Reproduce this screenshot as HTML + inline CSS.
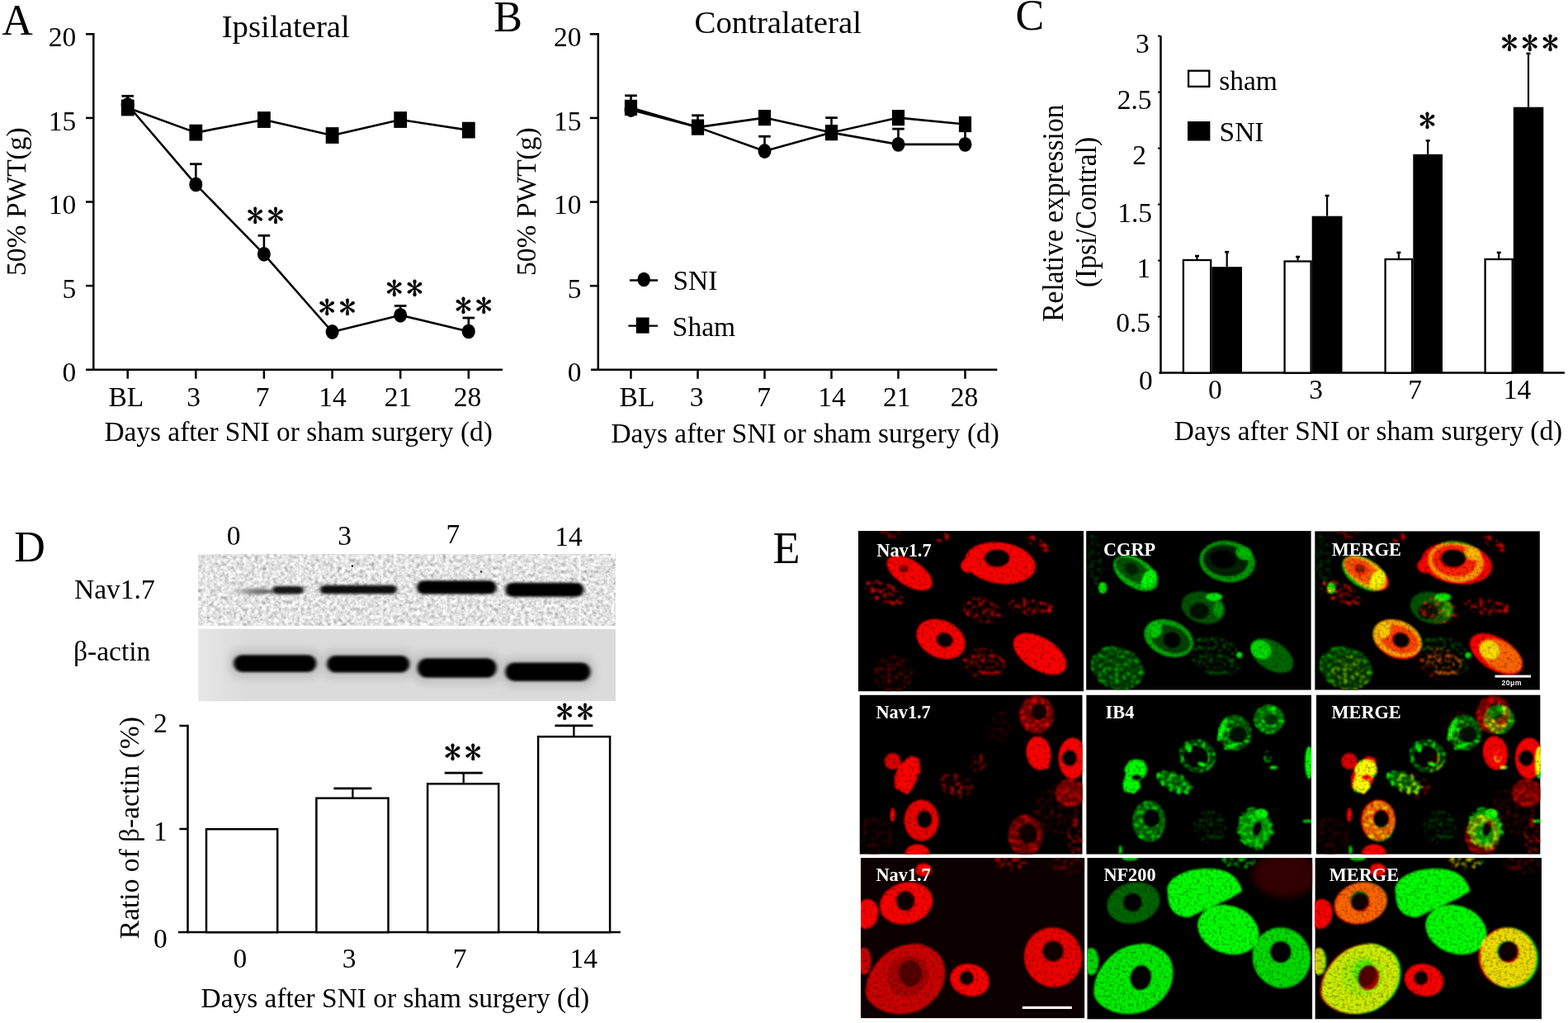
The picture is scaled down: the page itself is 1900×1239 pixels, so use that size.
<!DOCTYPE html>
<html><head><meta charset="utf-8"><title>Figure</title>
<style>html,body{margin:0;padding:0;background:#fff;}svg{display:block;}
text{font-family:"Liberation Serif","Times New Roman",serif;}
.ast{font-family:"IPAGothic","Liberation Serif",serif;letter-spacing:4.3px;stroke:#000;stroke-width:0.5px;}</style></head>
<body><svg width="1900" height="1239" viewBox="0 0 1900 1239">
<defs><filter id="cb" x="-5%" y="-5%" width="110%" height="110%"><feGaussianBlur stdDeviation="1.6"/></filter>
<filter id="bb" x="-20%" y="-50%" width="140%" height="200%"><feGaussianBlur stdDeviation="2.0 1.5"/></filter>
<filter id="hb" x="-20%" y="-50%" width="140%" height="200%"><feGaussianBlur stdDeviation="5"/></filter>
<filter id="nz1" x="0" y="0" width="100%" height="100%"><feTurbulence type="fractalNoise" baseFrequency="0.22" numOctaves="2" seed="4"/><feColorMatrix type="matrix" values="0.33 0.33 0.33 0 0 0.33 0.33 0.33 0 0 0.33 0.33 0.33 0 0 0 0 0 0 1"/><feComponentTransfer><feFuncR type="linear" slope="1.6" intercept="-0.03"/><feFuncG type="linear" slope="1.6" intercept="-0.03"/><feFuncB type="linear" slope="1.6" intercept="-0.03"/></feComponentTransfer></filter>
<filter id="tx" color-interpolation-filters="sRGB" x="-10%" y="-10%" width="120%" height="120%"><feGaussianBlur in="SourceGraphic" stdDeviation="1.3" result="b"/><feTurbulence type="fractalNoise" baseFrequency="0.3" numOctaves="2" seed="3" result="n"/><feColorMatrix in="n" type="matrix" values="0.9 0 0 0 0.5 0.9 0 0 0 0.5 0.9 0 0 0 0.5 0 0 0 0 1" result="g"/><feComposite in="b" in2="g" operator="arithmetic" k1="1" k2="0" k3="0" k4="0"/></filter>
<filter id="sp" color-interpolation-filters="sRGB" x="-10%" y="-10%" width="120%" height="120%"><feTurbulence type="fractalNoise" baseFrequency="0.2" numOctaves="2" seed="11" result="n"/><feColorMatrix in="n" type="matrix" values="0 0 0 0 0 0 0 0 0 0 0 0 0 0 0 4 0 0 0 -1.9" result="m"/><feComposite in="SourceGraphic" in2="m" operator="in" result="s"/><feGaussianBlur in="s" stdDeviation="1.1"/></filter>
<g id="R1"><g filter="url(#sp)"><ellipse cx="31" cy="75" rx="26" ry="12" fill="#e00" transform="rotate(25 31 75)"/><ellipse cx="150" cy="96" rx="24" ry="15" fill="#c00" transform="rotate(15 150 96)"/><ellipse cx="207" cy="92" rx="28" ry="10" fill="#d00" transform="rotate(10 207 92)"/><ellipse cx="152" cy="161" rx="26" ry="19" fill="#c00" transform="rotate(10 152 161)"/><ellipse cx="42" cy="173" rx="24" ry="22" fill="#600"/><ellipse cx="218" cy="16" rx="18" ry="6" fill="#e00" transform="rotate(35 218 16)"/><ellipse cx="102" cy="8" rx="9" ry="6" fill="#d00"/><ellipse cx="40" cy="4" rx="16" ry="5" fill="#900"/><ellipse cx="229" cy="93" rx="7" ry="6" fill="#f00"/></g>
<g filter="url(#tx)"><ellipse cx="62" cy="51" rx="31" ry="15.5" fill="#f00" transform="rotate(32 62 51)"/><ellipse cx="55" cy="46" rx="6" ry="5" fill="#800"/><ellipse cx="172" cy="39" rx="43" ry="25" fill="#f00" transform="rotate(8 172 39)"/><ellipse cx="134" cy="42" rx="10" ry="9" fill="#f00"/><ellipse cx="168" cy="33" rx="15" ry="10.5" fill="#000"/><ellipse cx="100" cy="131" rx="31" ry="22.5" fill="#f00" transform="rotate(25 100 131)"/><ellipse cx="104.5" cy="132" rx="10" ry="8.5" fill="#000" transform="rotate(15 104.5 132)"/><ellipse cx="220" cy="149" rx="36" ry="19.5" fill="#f00" transform="rotate(32 220 149)"/></g></g>
<g id="G1"><g filter="url(#tx)"><ellipse cx="38" cy="166" rx="32" ry="25" fill="#030" transform="rotate(20 38 166)"/></g>
<g filter="url(#sp)"><ellipse cx="38" cy="166" rx="33" ry="26" fill="#0a0" transform="rotate(20 38 166)"/><ellipse cx="157" cy="152" rx="32" ry="24" fill="#050" transform="rotate(25 157 152)"/><ellipse cx="10" cy="40" rx="10" ry="40" fill="#030"/></g>
<g filter="url(#tx)"><ellipse cx="60" cy="51" rx="30" ry="17.5" fill="#0b0" transform="rotate(32 60 51)"/><ellipse cx="57" cy="48" rx="24" ry="12" fill="#050" transform="rotate(32 57 48)"/><ellipse cx="76" cy="58" rx="8" ry="12" fill="#0f0" transform="rotate(32 76 58)"/><ellipse cx="55" cy="46" rx="9" ry="7" fill="#020" transform="rotate(32 55 46)"/><ellipse cx="171" cy="37" rx="34" ry="25" fill="#090" transform="rotate(8 171 37)"/><ellipse cx="169" cy="36" rx="27" ry="19" fill="#020" transform="rotate(8 169 36)"/><ellipse cx="191" cy="27" rx="10" ry="8" fill="#0b0" transform="rotate(20 191 27)"/><ellipse cx="166" cy="34" rx="16" ry="11" fill="#000" transform="rotate(8 166 34)"/><ellipse cx="142" cy="93" rx="27" ry="19" fill="#050" transform="rotate(15 142 93)"/><ellipse cx="137" cy="97" rx="12" ry="10" fill="#010"/><ellipse cx="155" cy="80" rx="10" ry="5" fill="#0e0"/><ellipse cx="160" cy="95" rx="6" ry="10" fill="#090"/><ellipse cx="100" cy="130" rx="31" ry="21.5" fill="#0a0" transform="rotate(22 100 130)"/><ellipse cx="102" cy="131" rx="25" ry="16" fill="#040" transform="rotate(22 102 131)"/><ellipse cx="104" cy="132" rx="10.5" ry="9.5" fill="#000" transform="rotate(22 104 132)"/><ellipse cx="84" cy="120" rx="8" ry="10" fill="#0c0" transform="rotate(20 84 120)"/><ellipse cx="225" cy="151" rx="29" ry="17" fill="#060" transform="rotate(32 225 151)"/><ellipse cx="212" cy="144" rx="13" ry="11" fill="#0d0" transform="rotate(30 212 144)"/><ellipse cx="20" cy="69" rx="5" ry="7" fill="#0e0"/><ellipse cx="185.7" cy="150.3" rx="3.5" ry="3.5" fill="#0f0"/></g></g>
<g id="R2"><g filter="url(#sp)"><ellipse cx="240" cy="140" rx="30" ry="30" fill="#400"/><ellipse cx="20" cy="170" rx="20" ry="25" fill="#300"/><ellipse cx="170" cy="40" rx="15" ry="20" fill="#300"/><ellipse cx="117" cy="110" rx="22" ry="14" fill="#900" transform="rotate(20 117 110)"/><ellipse cx="144" cy="83" rx="10" ry="12" fill="#800"/><ellipse cx="118" cy="108" rx="8" ry="10" fill="#c00"/></g>
<g filter="url(#tx)"><path d="M62,74 L72,77 L74,95 L69,97 L70,102 L65,112 L58,121 L43,113 L42,100 L48,85 Z" fill="#f00"/><ellipse cx="40" cy="80.5" rx="10" ry="10" fill="#d00"/><ellipse cx="75" cy="152" rx="21" ry="25" fill="#e00"/><ellipse cx="78.7" cy="150.6" rx="9" ry="10.5" fill="#000"/><ellipse cx="40" cy="145.5" rx="3" ry="8.5" fill="#f00"/><ellipse cx="70" cy="193" rx="15" ry="12" fill="#f00"/><ellipse cx="214.5" cy="24" rx="21" ry="23" fill="#600"/></g>
<g filter="url(#sp)"><ellipse cx="214.5" cy="24" rx="21" ry="23" fill="#e00"/></g>
<g filter="url(#tx)"><ellipse cx="217.6" cy="20.4" rx="9.5" ry="9.5" fill="#100"/><ellipse cx="217" cy="70.5" rx="15" ry="20.5" fill="#f00" transform="rotate(-8 217 70.5)"/><ellipse cx="226" cy="87" rx="4" ry="3" fill="#f00"/><ellipse cx="258" cy="77" rx="17" ry="25" fill="#f00"/><ellipse cx="254.4" cy="76.7" rx="8.6" ry="9.5" fill="#000"/><ellipse cx="255" cy="119" rx="18" ry="17" fill="#600"/></g>
<g filter="url(#sp)"><ellipse cx="255" cy="119" rx="18" ry="17" fill="#d00"/></g>
<g filter="url(#tx)"><ellipse cx="201" cy="170" rx="21" ry="25" fill="#500"/></g>
<g filter="url(#sp)"><ellipse cx="201" cy="170" rx="21" ry="25" fill="#c00"/></g>
<g filter="url(#tx)"><ellipse cx="204" cy="168" rx="11" ry="12" fill="#100"/></g>
<g filter="url(#sp)"><ellipse cx="262" cy="170" rx="10" ry="24" fill="#a00"/></g></g>
<g id="G2"><g filter="url(#sp)"><ellipse cx="150" cy="160" rx="20" ry="20" fill="#040"/></g>
<g filter="url(#tx)"><ellipse cx="180" cy="45.5" rx="20" ry="21.5" fill="#040" transform="rotate(-20 180 45.5)"/></g>
<g filter="url(#sp)"><ellipse cx="180" cy="45.5" rx="20" ry="21.5" fill="#0f0" transform="rotate(-20 180 45.5)"/></g>
<g filter="url(#tx)"><ellipse cx="184" cy="48" rx="11" ry="10" fill="#010" transform="rotate(-20 184 48)"/><ellipse cx="165" cy="42" rx="3.5" ry="15" fill="#0f0" transform="rotate(20 165 42)"/><ellipse cx="176" cy="62" rx="10" ry="3" fill="#0e0" transform="rotate(-20 176 62)"/><ellipse cx="221.5" cy="29.5" rx="18.5" ry="17.5" fill="#060"/></g>
<g filter="url(#sp)"><ellipse cx="221.5" cy="29.5" rx="18.5" ry="17.5" fill="#0f0"/></g>
<g filter="url(#tx)"><ellipse cx="224" cy="30" rx="8" ry="7" fill="#030"/><ellipse cx="134.5" cy="74" rx="22.5" ry="20" fill="#030" transform="rotate(20 134.5 74)"/></g>
<g filter="url(#sp)"><ellipse cx="134.5" cy="74" rx="22.5" ry="20" fill="#0e0" transform="rotate(20 134.5 74)"/></g>
<g filter="url(#tx)"><ellipse cx="133" cy="75" rx="15" ry="13" fill="#000" transform="rotate(20 133 75)"/><ellipse cx="125" cy="65" rx="3" ry="5" fill="#0f0"/><ellipse cx="140" cy="84" rx="5" ry="2.5" fill="#0f0" transform="rotate(20 140 84)"/><path d="M52,80 L60,78 L70,80 L74,90 L72,98 L64,104 L66,112 L58,120 L46,117 L44,108 L48,96 L46,90 Z" fill="#0f0"/><ellipse cx="61" cy="100" rx="6" ry="3" fill="#000"/><ellipse cx="107" cy="106" rx="22" ry="10" fill="#050" transform="rotate(25 107 106)"/></g>
<g filter="url(#sp)"><ellipse cx="107" cy="106" rx="24" ry="12" fill="#0f0" transform="rotate(25 107 106)"/></g>
<g filter="url(#tx)"><ellipse cx="76" cy="153" rx="20" ry="25" fill="#050"/></g>
<g filter="url(#sp)"><ellipse cx="76" cy="153" rx="20" ry="25" fill="#0d0"/></g>
<g filter="url(#tx)"><ellipse cx="79" cy="149.5" rx="10" ry="10.5" fill="#000"/><ellipse cx="204.5" cy="162" rx="20" ry="23" fill="#080" transform="rotate(-10 204.5 162)"/></g>
<g filter="url(#sp)"><ellipse cx="204.5" cy="162" rx="22.5" ry="26" fill="#0f0" transform="rotate(-10 204.5 162)"/></g>
<g filter="url(#tx)"><ellipse cx="207" cy="162" rx="5" ry="9" fill="#000" transform="rotate(20 207 162)"/><ellipse cx="212" cy="144" rx="8" ry="6" fill="#0f0"/><ellipse cx="270" cy="82" rx="5" ry="19.6" fill="#0f0"/><ellipse cx="227" cy="88" rx="5" ry="2" fill="#0f0"/><ellipse cx="268" cy="153" rx="6" ry="2" fill="#0d0"/><ellipse cx="41.5" cy="188" rx="2" ry="6" fill="#0d0"/></g>
<g filter="url(#sp)"><ellipse cx="220" cy="75" rx="5" ry="7" fill="#0f0"/></g></g>
<g id="R3"><g filter="url(#sp)"><ellipse cx="181" cy="5" rx="20" ry="10" fill="#c00"/><ellipse cx="250" cy="8" rx="22" ry="12" fill="#600"/></g>
<g filter="url(#tx)"><ellipse cx="55" cy="55" rx="32.5" ry="25" fill="#f00" transform="rotate(-15 55 55)"/><ellipse cx="54" cy="52" rx="11" ry="12" fill="#100"/><ellipse cx="7" cy="68" rx="14" ry="18" fill="#f00" transform="rotate(10 7 68)"/><ellipse cx="76" cy="14.5" rx="10" ry="8" fill="#f00"/><path d="M22,124 C27.2,118.2 33.3,113.3 40,110 C46.7,106.7 55.3,104.5 62,104 C68.7,103.5 74.2,104.3 80,107 C85.8,109.7 93.3,114.2 97,120 C100.7,125.8 102.5,134.5 102,142 C101.5,149.5 99.0,158.0 94,165 C89.0,172.0 80.2,180.0 72,184 C63.8,188.0 53.3,189.2 45,189 C36.7,188.8 28.3,186.5 22,183 C15.7,179.5 9.2,174.3 7,168 C4.8,161.7 6.5,152.3 9,145 C11.5,137.7 16.8,129.8 22,124 Z" fill="#c00"/><ellipse cx="57" cy="143" rx="26" ry="24" fill="#a00" transform="rotate(-30 57 143)"/><ellipse cx="60" cy="140" rx="14" ry="16" fill="#500"/><ellipse cx="4" cy="125" rx="8.5" ry="16.5" fill="#c00"/><ellipse cx="132" cy="148" rx="24" ry="19.5" fill="#f00" transform="rotate(15 132 148)"/><ellipse cx="128.3" cy="145.5" rx="8.5" ry="8.5" fill="#100"/><ellipse cx="233" cy="120.5" rx="35" ry="36.5" fill="#e00" transform="rotate(-20 233 120.5)"/><ellipse cx="233" cy="113" rx="12.5" ry="12.5" fill="#100"/></g></g>
<g id="G3"><g filter="url(#tx)"><ellipse cx="56" cy="54.5" rx="32.5" ry="24.5" fill="#060" transform="rotate(-15 56 54.5)"/><ellipse cx="55" cy="54" rx="11" ry="11" fill="#000"/><path d="M97,36 C102,20 125,12 150,13 C170,14 183,22 188,40 C172,52 146,60 124,72 C108,72 100,64 98,50 Z" fill="#0f0"/><ellipse cx="171" cy="87" rx="38" ry="29" fill="#0f0" transform="rotate(20 171 87)"/><path d="M24,124 C29.2,118.2 35.3,113.3 42,110 C48.7,106.7 57.3,104.5 64,104 C70.7,103.5 76.2,104.3 82,107 C87.8,109.7 95.3,114.2 99,120 C102.7,125.8 104.5,134.5 104,142 C103.5,149.5 101.0,158.0 96,165 C91.0,172.0 82.2,180.0 74,184 C65.8,188.0 55.3,189.2 47,189 C38.7,188.8 30.3,186.5 24,183 C17.7,179.5 11.2,174.3 9,168 C6.8,161.7 8.5,152.3 11,145 C13.5,137.7 18.8,129.8 24,124 Z" fill="#0e0"/><ellipse cx="65" cy="145" rx="12.5" ry="15" fill="#000" transform="rotate(10 65 145)"/><ellipse cx="235.5" cy="121" rx="35" ry="37" fill="#0d0" transform="rotate(-20 235.5 121)"/><ellipse cx="234.5" cy="114" rx="12.5" ry="13" fill="#000"/><ellipse cx="5" cy="125.5" rx="9" ry="16.5" fill="#0d0"/><ellipse cx="52" cy="0" rx="10" ry="3.5" fill="#0d0"/></g>
<g filter="url(#sp)"><ellipse cx="183.5" cy="4" rx="20.5" ry="10" fill="#0c0"/></g></g></defs>
<rect width="1900" height="1239" fill="#fff"/>
<line x1="113.3" y1="40.1" x2="113.3" y2="448.9" stroke="#000" stroke-width="2.5" />
<line x1="104.0" y1="447.7" x2="609.0" y2="447.7" stroke="#000" stroke-width="2.5" />
<line x1="104.0" y1="41.3" x2="113.3" y2="41.3" stroke="#000" stroke-width="2.5" />
<line x1="104.0" y1="142.9" x2="113.3" y2="142.9" stroke="#000" stroke-width="2.5" />
<line x1="104.0" y1="244.5" x2="113.3" y2="244.5" stroke="#000" stroke-width="2.5" />
<line x1="104.0" y1="346.1" x2="113.3" y2="346.1" stroke="#000" stroke-width="2.5" />
<line x1="154.7" y1="447.7" x2="154.7" y2="458.7" stroke="#000" stroke-width="2.5" />
<line x1="237.3" y1="447.7" x2="237.3" y2="458.7" stroke="#000" stroke-width="2.5" />
<line x1="319.9" y1="447.7" x2="319.9" y2="458.7" stroke="#000" stroke-width="2.5" />
<line x1="402.6" y1="447.7" x2="402.6" y2="458.7" stroke="#000" stroke-width="2.5" />
<line x1="485.2" y1="447.7" x2="485.2" y2="458.7" stroke="#000" stroke-width="2.5" />
<line x1="567.8" y1="447.7" x2="567.8" y2="458.7" stroke="#000" stroke-width="2.5" />
<text x="92.2" y="55.9" font-size="33.5" text-anchor="end" >20</text>
<text x="92.2" y="157.5" font-size="33.5" text-anchor="end" >15</text>
<text x="92.2" y="259.1" font-size="33.5" text-anchor="end" >10</text>
<text x="92.2" y="360.7" font-size="33.5" text-anchor="end" >5</text>
<text x="92.2" y="462.3" font-size="33.5" text-anchor="end" >0</text>
<text x="152.8" y="492.0" font-size="33.5" text-anchor="middle" >BL</text>
<text x="234.5" y="492.0" font-size="33.5" text-anchor="middle" >3</text>
<text x="318.0" y="492.0" font-size="33.5" text-anchor="middle" >7</text>
<text x="403.1" y="492.0" font-size="33.5" text-anchor="middle" >14</text>
<text x="482.5" y="492.0" font-size="33.5" text-anchor="middle" >21</text>
<text x="566.4" y="492.0" font-size="33.5" text-anchor="middle" >28</text>
<text x="268.7" y="45.2" font-size="38.8" >Ipsilateral</text>
<text x="126.4" y="534.4" font-size="33.4" >Days after SNI or sham surgery (d)</text>
<text x="2.3" y="41.6" font-size="52" >A</text>
<text transform="translate(31.0,333.9) rotate(-90)" font-size="33.5">50% PWT(g)</text>
<polyline points="154.7,127.0 237.3,223.4 319.9,307.8 402.6,402.0 485.2,381.8 567.8,401.4" fill="none" stroke="#000" stroke-width="2.6" stroke-linejoin="round"/>
<polyline points="154.7,130.5 237.3,160.6 319.9,145.0 402.6,164.0 485.2,145.0 567.8,157.6" fill="none" stroke="#000" stroke-width="2.6" stroke-linejoin="round"/>
<line x1="154.7" y1="127.0" x2="154.7" y2="116.3" stroke="#000" stroke-width="2.6" />
<line x1="147.4" y1="116.3" x2="162.0" y2="116.3" stroke="#000" stroke-width="2.8" />
<line x1="237.3" y1="223.4" x2="237.3" y2="198.7" stroke="#000" stroke-width="2.6" />
<line x1="230.0" y1="198.7" x2="244.6" y2="198.7" stroke="#000" stroke-width="2.8" />
<line x1="319.9" y1="307.8" x2="319.9" y2="285.3" stroke="#000" stroke-width="2.6" />
<line x1="312.6" y1="285.3" x2="327.2" y2="285.3" stroke="#000" stroke-width="2.8" />
<line x1="485.2" y1="380.9" x2="485.2" y2="370.4" stroke="#000" stroke-width="2.6" />
<line x1="477.9" y1="370.4" x2="492.5" y2="370.4" stroke="#000" stroke-width="2.8" />
<line x1="567.8" y1="401.4" x2="567.8" y2="385.0" stroke="#000" stroke-width="2.6" />
<line x1="560.5" y1="385.0" x2="575.1" y2="385.0" stroke="#000" stroke-width="2.8" />
<ellipse cx="154.7" cy="127.0" rx="8" ry="8.9"/>
<ellipse cx="237.3" cy="223.4" rx="8" ry="8.9"/>
<ellipse cx="319.9" cy="307.8" rx="8" ry="8.9"/>
<ellipse cx="402.6" cy="402.0" rx="8" ry="8.9"/>
<ellipse cx="485.2" cy="381.8" rx="8" ry="8.9"/>
<ellipse cx="567.8" cy="401.4" rx="8" ry="8.9"/>
<rect x="146.8" y="120.6" width="15.8" height="19.8" fill="#000" />
<rect x="229.4" y="150.7" width="15.8" height="19.8" fill="#000" />
<rect x="312.0" y="135.1" width="15.8" height="19.8" fill="#000" />
<rect x="394.7" y="154.1" width="15.8" height="19.8" fill="#000" />
<rect x="477.3" y="135.1" width="15.8" height="19.8" fill="#000" />
<rect x="559.9" y="147.7" width="15.8" height="19.8" fill="#000" />
<text x="299.0" y="276.3" font-size="41" class="ast">**</text>
<text x="385.9" y="387.0" font-size="41" class="ast">**</text>
<text x="467.4" y="364.0" font-size="41" class="ast">**</text>
<text x="551.2" y="385.4" font-size="41" class="ast">**</text>
<line x1="724.8" y1="40.1" x2="724.8" y2="449.0" stroke="#000" stroke-width="2.5" />
<line x1="716.0" y1="447.8" x2="1208.3" y2="447.8" stroke="#000" stroke-width="2.5" />
<line x1="714.8" y1="41.3" x2="724.8" y2="41.3" stroke="#000" stroke-width="2.5" />
<line x1="714.8" y1="142.9" x2="724.8" y2="142.9" stroke="#000" stroke-width="2.5" />
<line x1="714.8" y1="244.6" x2="724.8" y2="244.6" stroke="#000" stroke-width="2.5" />
<line x1="714.8" y1="346.2" x2="724.8" y2="346.2" stroke="#000" stroke-width="2.5" />
<line x1="764.5" y1="447.8" x2="764.5" y2="458.8" stroke="#000" stroke-width="2.5" />
<line x1="845.5" y1="447.8" x2="845.5" y2="458.8" stroke="#000" stroke-width="2.5" />
<line x1="926.5" y1="447.8" x2="926.5" y2="458.8" stroke="#000" stroke-width="2.5" />
<line x1="1007.5" y1="447.8" x2="1007.5" y2="458.8" stroke="#000" stroke-width="2.5" />
<line x1="1088.5" y1="447.8" x2="1088.5" y2="458.8" stroke="#000" stroke-width="2.5" />
<line x1="1169.5" y1="447.8" x2="1169.5" y2="458.8" stroke="#000" stroke-width="2.5" />
<text x="704.4" y="55.9" font-size="33.5" text-anchor="end" >20</text>
<text x="704.4" y="157.5" font-size="33.5" text-anchor="end" >15</text>
<text x="704.4" y="259.2" font-size="33.5" text-anchor="end" >10</text>
<text x="704.4" y="360.8" font-size="33.5" text-anchor="end" >5</text>
<text x="704.4" y="462.4" font-size="33.5" text-anchor="end" >0</text>
<text x="772.0" y="491.6" font-size="33.5" text-anchor="middle" >BL</text>
<text x="844.0" y="491.6" font-size="33.5" text-anchor="middle" >3</text>
<text x="925.6" y="491.6" font-size="33.5" text-anchor="middle" >7</text>
<text x="1008.0" y="491.6" font-size="33.5" text-anchor="middle" >14</text>
<text x="1086.7" y="491.6" font-size="33.5" text-anchor="middle" >21</text>
<text x="1168.5" y="491.6" font-size="33.5" text-anchor="middle" >28</text>
<text x="841.5" y="39.8" font-size="38.8" >Contralateral</text>
<text x="740.4" y="535.6" font-size="33.4" >Days after SNI or sham surgery (d)</text>
<text x="598.3" y="37.5" font-size="52" >B</text>
<text transform="translate(648.5,333.9) rotate(-90)" font-size="33.5">50% PWT(g)</text>
<polyline points="764.5,133.0 845.5,154.1 926.5,183.0 1007.5,160.6 1088.5,174.9 1169.5,174.9" fill="none" stroke="#000" stroke-width="2.6" stroke-linejoin="round"/>
<polyline points="764.5,130.4 845.5,154.1 926.5,142.6 1007.5,160.6 1088.5,142.6 1169.5,150.5" fill="none" stroke="#000" stroke-width="2.6" stroke-linejoin="round"/>
<line x1="764.5" y1="130.0" x2="764.5" y2="115.8" stroke="#000" stroke-width="2.6" />
<line x1="757.2" y1="115.8" x2="771.8" y2="115.8" stroke="#000" stroke-width="2.8" />
<line x1="845.5" y1="154.0" x2="845.5" y2="139.8" stroke="#000" stroke-width="2.6" />
<line x1="838.2" y1="139.8" x2="852.8" y2="139.8" stroke="#000" stroke-width="2.8" />
<line x1="926.5" y1="183.0" x2="926.5" y2="165.2" stroke="#000" stroke-width="2.6" />
<line x1="919.2" y1="165.2" x2="933.8" y2="165.2" stroke="#000" stroke-width="2.8" />
<line x1="1007.5" y1="160.0" x2="1007.5" y2="142.6" stroke="#000" stroke-width="2.6" />
<line x1="1000.2" y1="142.6" x2="1014.8" y2="142.6" stroke="#000" stroke-width="2.8" />
<line x1="1088.5" y1="174.9" x2="1088.5" y2="156.1" stroke="#000" stroke-width="2.6" />
<line x1="1081.2" y1="156.1" x2="1095.8" y2="156.1" stroke="#000" stroke-width="2.8" />
<line x1="1169.5" y1="174.9" x2="1169.5" y2="150.5" stroke="#000" stroke-width="2.6" />
<line x1="1162.2" y1="150.5" x2="1176.8" y2="150.5" stroke="#000" stroke-width="2.8" />
<ellipse cx="764.5" cy="133.0" rx="8" ry="8.9"/>
<ellipse cx="845.5" cy="154.1" rx="8" ry="8.9"/>
<ellipse cx="926.5" cy="183.0" rx="8" ry="8.9"/>
<ellipse cx="1007.5" cy="160.6" rx="8" ry="8.9"/>
<ellipse cx="1088.5" cy="174.9" rx="8" ry="8.9"/>
<ellipse cx="1169.5" cy="174.9" rx="8" ry="8.9"/>
<rect x="756.9" y="120.8" width="15.2" height="19.2" fill="#000" />
<rect x="837.9" y="144.5" width="15.2" height="19.2" fill="#000" />
<rect x="918.9" y="133.0" width="15.2" height="19.2" fill="#000" />
<rect x="999.9" y="151.0" width="15.2" height="19.2" fill="#000" />
<rect x="1080.9" y="133.0" width="15.2" height="19.2" fill="#000" />
<rect x="1161.9" y="140.9" width="15.2" height="19.2" fill="#000" />
<line x1="763.0" y1="339.5" x2="797.0" y2="339.5" stroke="#000" stroke-width="2.3" />
<ellipse cx="780.2" cy="338.5" rx="7.75" ry="8.85"/>
<text x="815.4" y="351.3" font-size="33.5" >SNI</text>
<line x1="761.4" y1="394.7" x2="797.0" y2="394.7" stroke="#000" stroke-width="2.3" />
<rect x="770.8" y="384.5" width="15.8" height="19.2" fill="#000" />
<text x="814.8" y="406.6" font-size="33.5" >Sham</text>
<line x1="1406.5" y1="43.5" x2="1406.5" y2="452.8" stroke="#000" stroke-width="2.5" />
<line x1="1404.5" y1="451.6" x2="1895.9" y2="451.6" stroke="#000" stroke-width="2.5" />
<line x1="1403.0" y1="383.6" x2="1406.5" y2="383.6" stroke="#000" stroke-width="2" />
<line x1="1403.0" y1="315.6" x2="1406.5" y2="315.6" stroke="#000" stroke-width="2" />
<line x1="1403.0" y1="247.6" x2="1406.5" y2="247.6" stroke="#000" stroke-width="2" />
<line x1="1403.0" y1="179.6" x2="1406.5" y2="179.6" stroke="#000" stroke-width="2" />
<line x1="1403.0" y1="111.6" x2="1406.5" y2="111.6" stroke="#000" stroke-width="2" />
<line x1="1403.0" y1="43.6" x2="1406.5" y2="43.6" stroke="#000" stroke-width="2" />
<text x="1380.1" y="472.0" font-size="33.5" >0</text>
<text x="1352.2" y="402.4" font-size="33.5" >0.5</text>
<text x="1377.5" y="335.8" font-size="33.5" >1</text>
<text x="1354.2" y="268.5" font-size="33.5" >1.5</text>
<text x="1372.3" y="198.5" font-size="33.5" >2</text>
<text x="1353.7" y="131.8" font-size="33.5" >2.5</text>
<text x="1375.9" y="63.6" font-size="33.5" >3</text>
<line x1="1450.5" y1="313.9" x2="1450.5" y2="310.0" stroke="#000" stroke-width="2.2" />
<line x1="1448.0" y1="310.0" x2="1453.0" y2="310.0" stroke="#000" stroke-width="2.6" />
<line x1="1486.7" y1="323.2" x2="1486.7" y2="305.2" stroke="#000" stroke-width="2.2" />
<line x1="1484.2" y1="305.2" x2="1489.2" y2="305.2" stroke="#000" stroke-width="2.6" />
<rect x="1433.9" y="315.0" width="33.3" height="136.6" fill="#fff" stroke="#000" stroke-width="2.3" />
<rect x="1468.3" y="323.2" width="36.7" height="128.4" fill="#000" />
<line x1="1572.6" y1="315.4" x2="1572.6" y2="311.0" stroke="#000" stroke-width="2.2" />
<line x1="1570.1" y1="311.0" x2="1575.1" y2="311.0" stroke="#000" stroke-width="2.6" />
<line x1="1608.1" y1="261.7" x2="1608.1" y2="237.0" stroke="#000" stroke-width="2.2" />
<line x1="1605.6" y1="237.0" x2="1610.6" y2="237.0" stroke="#000" stroke-width="2.6" />
<rect x="1556.6" y="316.5" width="32.0" height="135.1" fill="#fff" stroke="#000" stroke-width="2.3" />
<rect x="1589.7" y="261.7" width="36.8" height="189.9" fill="#000" />
<line x1="1694.9" y1="312.9" x2="1694.9" y2="305.9" stroke="#000" stroke-width="2.2" />
<line x1="1692.4" y1="305.9" x2="1697.4" y2="305.9" stroke="#000" stroke-width="2.6" />
<line x1="1730.2" y1="186.8" x2="1730.2" y2="170.3" stroke="#000" stroke-width="2.2" />
<line x1="1727.7" y1="170.3" x2="1732.7" y2="170.3" stroke="#000" stroke-width="2.6" />
<rect x="1678.6" y="314.0" width="32.6" height="137.6" fill="#fff" stroke="#000" stroke-width="2.3" />
<rect x="1712.3" y="186.8" width="35.7" height="264.8" fill="#000" />
<line x1="1816.2" y1="312.9" x2="1816.2" y2="305.9" stroke="#000" stroke-width="2.2" />
<line x1="1813.7" y1="305.9" x2="1818.7" y2="305.9" stroke="#000" stroke-width="2.6" />
<line x1="1852.0" y1="129.7" x2="1852.0" y2="64.8" stroke="#000" stroke-width="2.2" />
<line x1="1849.5" y1="64.8" x2="1854.5" y2="64.8" stroke="#000" stroke-width="2.6" />
<rect x="1799.6" y="314.0" width="33.1" height="137.6" fill="#fff" stroke="#000" stroke-width="2.3" />
<rect x="1833.8" y="129.7" width="36.5" height="321.9" fill="#000" />
<text x="1472.3" y="483.4" font-size="33.5" text-anchor="middle" >0</text>
<text x="1594.5" y="483.4" font-size="33.5" text-anchor="middle" >3</text>
<text x="1714.5" y="483.4" font-size="33.5" text-anchor="middle" >7</text>
<text x="1838.5" y="483.4" font-size="33.5" text-anchor="middle" >14</text>
<text x="1422.8" y="533.4" font-size="33.4" >Days after SNI or sham surgery (d)</text>
<text x="1230.6" y="36.2" font-size="52" >C</text>
<rect x="1440.1" y="85.7" width="25.2" height="19.1" fill="#fff" stroke="#000" stroke-width="2.3" />
<text x="1477.2" y="109.1" font-size="33.5" >sham</text>
<rect x="1439.0" y="147.0" width="27.4" height="23.5" fill="#000" />
<text x="1477.5" y="170.5" font-size="33.5" >SNI</text>
<text x="1719.3" y="160.7" font-size="41" class="ast">*</text>
<text x="1818.7" y="66.9" font-size="41" class="ast">***</text>
<text transform="translate(1288.4,389.8) rotate(-90) scale(1,1.045)" font-size="33.5">Relative expression</text>
<text transform="translate(1328.2,348.1) rotate(-90) scale(1,1.045)" font-size="33.5">(Ipsi/Contral)</text>
<text x="17.3" y="679.6" font-size="52" >D</text>
<text x="90.0" y="725.3" font-size="33.5" >Nav1.7</text>
<text x="89.0" y="800.0" font-size="33.5" >β-actin</text>
<text x="283.2" y="660.0" font-size="33.5" text-anchor="middle" >0</text>
<text x="417.5" y="660.2" font-size="33.5" text-anchor="middle" >3</text>
<text x="548.8" y="657.8" font-size="33.5" text-anchor="middle" >7</text>
<text x="688.9" y="660.8" font-size="33.5" text-anchor="middle" >14</text>
<line x1="227.5" y1="877.8" x2="227.5" y2="1130.3" stroke="#000" stroke-width="2.5" />
<line x1="215.9" y1="1129.1" x2="751.9" y2="1129.1" stroke="#000" stroke-width="2.5" />
<line x1="217.4" y1="1004.0" x2="227.5" y2="1004.0" stroke="#000" stroke-width="2.5" />
<line x1="217.4" y1="879.0" x2="227.5" y2="879.0" stroke="#000" stroke-width="2.5" />
<rect x="250.0" y="1004.2" width="86.2" height="124.9" fill="#fff" stroke="#000" stroke-width="2.5" />
<line x1="427.4" y1="966.7" x2="427.4" y2="954.8" stroke="#000" stroke-width="2.3" />
<line x1="404.4" y1="954.8" x2="450.4" y2="954.8" stroke="#000" stroke-width="2.8" />
<rect x="383.4" y="966.7" width="87.1" height="162.4" fill="#fff" stroke="#000" stroke-width="2.5" />
<line x1="561.7" y1="949.3" x2="561.7" y2="936.2" stroke="#000" stroke-width="2.3" />
<line x1="538.7" y1="936.2" x2="584.7" y2="936.2" stroke="#000" stroke-width="2.8" />
<rect x="518.1" y="949.3" width="86.1" height="179.8" fill="#fff" stroke="#000" stroke-width="2.5" />
<line x1="695.4" y1="892.2" x2="695.4" y2="878.8" stroke="#000" stroke-width="2.3" />
<line x1="672.4" y1="878.8" x2="718.4" y2="878.8" stroke="#000" stroke-width="2.8" />
<rect x="652.1" y="892.2" width="87.0" height="236.9" fill="#fff" stroke="#000" stroke-width="2.5" />
<text x="202.8" y="887.1" font-size="33.5" text-anchor="end" >2</text>
<text x="202.8" y="1017.6" font-size="33.5" text-anchor="end" >1</text>
<text x="202.8" y="1148.3" font-size="33.5" text-anchor="end" >0</text>
<text x="290.8" y="1171.6" font-size="33.5" text-anchor="middle" >0</text>
<text x="423.0" y="1171.6" font-size="33.5" text-anchor="middle" >3</text>
<text x="557.0" y="1171.6" font-size="33.5" text-anchor="middle" >7</text>
<text x="707.3" y="1171.6" font-size="33.5" text-anchor="middle" >14</text>
<text x="243.6" y="1220.2" font-size="33.4" >Days after SNI or sham surgery (d)</text>
<text transform="translate(167.6,1137.2) rotate(-90)" font-size="33.5">Ratio of β-actin (%)</text>
<text x="538.2" y="925.8" font-size="41" class="ast">**</text>
<text x="674.0" y="876.6" font-size="41" class="ast">**</text>
<linearGradient id="lg0" x1="0" x2="1" y1="0" y2="0"><stop offset="0" stop-color="#999" stop-opacity="0"/><stop offset="0.5" stop-color="#888"/><stop offset="1" stop-color="#555"/></linearGradient>
<linearGradient id="lg2" x1="0" x2="1" y1="0" y2="0"><stop offset="0" stop-color="#e6e6e6"/><stop offset="1" stop-color="#dbdbdb"/></linearGradient>
<rect x="240.6" y="671.2" width="505.4" height="85.9" filter="url(#nz1)"/>
<rect x="248.5" y="671.2" width="2.2" height="85.9" fill="#fff" opacity="0.45"/>
<rect x="363" y="671.2" width="2.2" height="85.9" fill="#fff" opacity="0.45"/>
<rect x="462" y="671.2" width="2.2" height="85.9" fill="#fff" opacity="0.45"/>
<rect x="540" y="671.2" width="2.2" height="85.9" fill="#fff" opacity="0.45"/>
<rect x="701.8" y="671.2" width="2.2" height="85.9" fill="#fff" opacity="0.45"/>
<circle cx="427" cy="685.5" r="1.3" fill="#222"/><circle cx="583" cy="692.5" r="1.2" fill="#333"/>
<rect x="240.6" y="761.8" width="505.4" height="87.3" fill="#dbdbdb"/>
<rect x="240.6" y="761.8" width="60" height="87.3" fill="url(#lg2)"/>
<g filter="url(#hb)">
<rect x="277" y="785.25" width="112.39999999999998" height="36.7" rx="14" fill="#c4c4c4"/>
<rect x="390" y="785.95" width="112.39999999999998" height="36.5" rx="14" fill="#c4c4c4"/>
<rect x="499.7" y="789.15" width="108.00000000000006" height="39.7" rx="14" fill="#c4c4c4"/>
<rect x="606.2" y="794.5" width="115.29999999999995" height="38.4" rx="14" fill="#c4c4c4"/>
</g>
<g filter="url(#bb)">
<ellipse cx="305" cy="716.4" rx="26" ry="3.6" fill="url(#lg0)"/>
<rect x="330" y="709.95" width="38" height="9.5" rx="4.75" ry="4.75" fill="#151515"/>
<rect x="387.6" y="708.85" width="93.39999999999998" height="10.3" rx="5.15" ry="5.15" fill="#111"/>
<rect x="505" y="703.1999999999999" width="96.70000000000005" height="16.4" rx="8.2" ry="8.2" fill="#000"/>
<rect x="612.2" y="705.8" width="95.39999999999998" height="17" rx="8.5" ry="8.5" fill="#000"/>
<rect x="283" y="793.25" width="100.39999999999998" height="20.7" rx="10.35" ry="10.35" fill="#000"/>
<rect x="396" y="793.95" width="100.39999999999998" height="20.5" rx="10.25" ry="10.25" fill="#000"/>
<rect x="505.7" y="797.15" width="96.00000000000006" height="23.7" rx="11.85" ry="11.85" fill="#000"/>
<rect x="612.2" y="802.5" width="103.29999999999995" height="22.4" rx="11.2" ry="11.2" fill="#000"/>
</g>
<svg x="1040" y="643" width="273.2" height="194.4" viewBox="0 0 273.2 194.4"><rect width="273.2" height="194.4" fill="#000"/>
<use href="#R1"/>
</svg>
<text x="1062.3" y="673.5" font-size="22.3" font-weight="bold" fill="#fff">Nav1.7</text>
<svg x="1316.1" y="643" width="272.7" height="192.8" viewBox="0 0 272.7 192.8"><rect width="272.7" height="192.8" fill="#000"/>
<use href="#G1"/>
</svg>
<text x="1337.0" y="672.9" font-size="22.3" font-weight="bold" fill="#fff">CGRP</text>
<svg x="1593.2" y="643.2" width="272.7" height="192.5" viewBox="0 0 272.7 192.5"><rect width="272.7" height="192.5" fill="#000"/>
<g style="isolation:isolate"><use href="#R1"/><use href="#G1" style="mix-blend-mode:screen"/></g>
</svg>
<text x="1613.7" y="672.9" font-size="22.3" font-weight="bold" fill="#fff">MERGE</text>
<svg x="1041.5" y="841.6" width="270.2" height="193.1" viewBox="0 0 270.2 193.1"><rect width="270.2" height="193.1" fill="#000"/>
<use href="#R2"/>
</svg>
<text x="1061.5" y="870.0" font-size="22.3" font-weight="bold" fill="#fff">Nav1.7</text>
<svg x="1316.2" y="841.6" width="272.8" height="193.1" viewBox="0 0 272.8 193.1"><rect width="272.8" height="193.1" fill="#000"/>
<use href="#G2"/>
</svg>
<text x="1339.6" y="870.0" font-size="22.3" font-weight="bold" fill="#fff">IB4</text>
<svg x="1594.9" y="841.5" width="271.7" height="193.2" viewBox="0 0 271.7 193.2"><rect width="271.7" height="193.2" fill="#000"/>
<g style="isolation:isolate"><use href="#R2"/><use href="#G2" style="mix-blend-mode:screen"/></g>
</svg>
<text x="1613.5" y="870.0" font-size="22.3" font-weight="bold" fill="#fff">MERGE</text>
<svg x="1043" y="1039" width="271.3" height="194.2" viewBox="0 0 271.3 194.2"><rect width="271.3" height="194.2" fill="#000"/>
<rect width="271.3" height="194.2" fill="#0c0000"/>
<use href="#R3"/>
</svg>
<text x="1061.5" y="1067.0" font-size="22.3" font-weight="bold" fill="#fff">Nav1.7</text>
<svg x="1317.3" y="1039" width="273" height="195.6" viewBox="0 0 273 195.6"><rect width="273" height="195.6" fill="#000"/>
<ellipse cx="240" cy="20" rx="40" ry="28" fill="#300" filter="url(#hb)"/>
<use href="#G3"/>
</svg>
<text x="1337.4" y="1067.2" font-size="22.3" font-weight="bold" fill="#fff">NF200</text>
<svg x="1593.4" y="1039" width="274.6" height="195.4" viewBox="0 0 274.6 195.4"><rect width="274.6" height="195.4" fill="#000"/>
<g style="isolation:isolate"><use href="#R3"/><use href="#G3" style="mix-blend-mode:screen"/></g>
</svg>
<text x="1610.8" y="1067.2" font-size="22.3" font-weight="bold" fill="#fff">MERGE</text>
<rect x="1811.5" y="817.6" width="43.5" height="3" fill="#fff"/>
<text x="1819.6" y="830.3" fill="#f4f4f4" style="font-family:'Liberation Sans',sans-serif;font-weight:bold;font-size:8.8px;letter-spacing:0.3px">20μm</text>
<rect x="1238.8" y="1218.8" width="60" height="3.2" fill="#fff"/>
<text x="936.5" y="681.9" font-size="54">E</text>
</svg></body></html>
